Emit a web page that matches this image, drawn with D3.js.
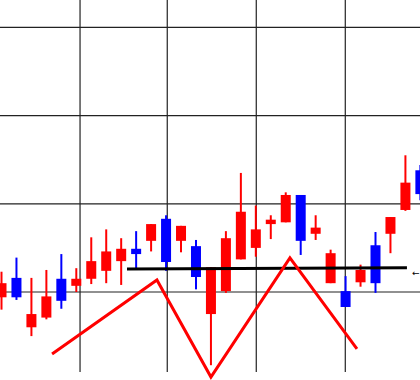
<!DOCTYPE html>
<html><head><meta charset="utf-8">
<script src="https://cdn.jsdelivr.net/npm/d3@7"></script>
<style>html,body{margin:0;padding:0;background:#fff;overflow:hidden}svg{display:block}</style>
</head><body>
<svg id="c" width="420" height="380"></svg>
<script>
// candle data (index order)
const opens  = [994,1016,960,971,1015,1007,1015,1024,1035,1049,1058,1083,1058,1052,975,1001,1037,1050,1077,1079,1110,1066,1010,1001,1011,1053,1066,1093,1138];
const highs  = [1023,1039,1016,1025,1043,1027,1062,1071,1061,1069,1077,1087,1075,1059,1028,1069,1135,1098,1087,1113,1110,1087,1048,1018,1031,1068,1085,1155,1144];
const lows   = [980,991,950,969,981,1000,1009,1010,1008,1027,1046,1024,1045,1003,917,999,1037,1040,1060,1079,1042,1059,1010,983,1006,999,1044,1092,1104];
const closes = [1010,994,975,995,990,1015,1035,1046,1049,1043,1077,1034,1075,1017,1028,1061,1091,1071,1082,1110,1058,1073,1044,983,1025,1010,1085,1124,1111];
// grid ticks
const yTicks = [1000,1100,1200,1300];
const xTicks = [5.25,11.08,17.03,22.98];
// support line (index, value)
const supportX = [8.39,27.1];
const supportY = [1026,1027.6];
// zigzag pattern line (index, value)
const zigX = [3.38,10.39,14.0,19.28,23.76];
const zigY = [929.7,1013.6,903.6,1038.6,935.4];

const svg = d3.select("#c");
const W = 420, plotBottom = 372;
const x = d3.scaleLinear().domain([0,28]).range([1.5, 1.5+28*14.96]);
const y = d3.scaleLinear().domain([1000,1300]).range([292,27.4]);
const bodyW = 10;

// grid
svg.append("g").selectAll("line").data(yTicks).join("line")
  .attr("x1",0).attr("x2",W).attr("y1",d=>y(d)).attr("y2",d=>y(d))
  .attr("stroke","#222").attr("stroke-width",1.2);
svg.append("g").selectAll("line").data(xTicks).join("line")
  .attr("x1",d=>x(d)).attr("x2",d=>x(d)).attr("y1",0).attr("y2",plotBottom)
  .attr("stroke","#222").attr("stroke-width",1.2);

const candles = opens.map((o,i)=>({i,o,h:highs[i],l:lows[i],c:closes[i]}));
const col = d => d.c >= d.o ? "#ff0000" : "#0000ff";
const g = svg.append("g");
g.selectAll("line.wick").data(candles).join("line").attr("class","wick")
  .attr("x1",d=>x(d.i)).attr("x2",d=>x(d.i))
  .attr("y1",d=>y(d.h)).attr("y2",d=>y(d.l))
  .attr("stroke",col).attr("stroke-width",2);
g.selectAll("rect").data(candles).join("rect")
  .attr("x",d=>x(d.i)-bodyW/2).attr("width",bodyW)
  .attr("y",d=>y(Math.max(d.o,d.c)))
  .attr("height",d=>Math.max(1,Math.abs(y(d.o)-y(d.c))))
  .attr("fill",col);

// support line
const line = d3.line().x(d=>x(d[0])).y(d=>y(d[1]));
svg.append("path").datum(supportX.map((v,i)=>[v,supportY[i]]))
  .attr("d",line).attr("fill","none").attr("stroke","#000").attr("stroke-width",3);
// zigzag
svg.append("path").datum(zigX.map((v,i)=>[v,zigY[i]]))
  .attr("d",line).attr("fill","none").attr("stroke","#ff0000").attr("stroke-width",3)
  .attr("stroke-linejoin","miter");

// small label at right end (clipped)
svg.append("text").attr("x",x(supportX[1])+5).attr("y",y(supportY[1])+8)
  .attr("font-family","DejaVu Sans").attr("font-size",9).attr("fill","#000").text("←");
</script>
</body></html>
